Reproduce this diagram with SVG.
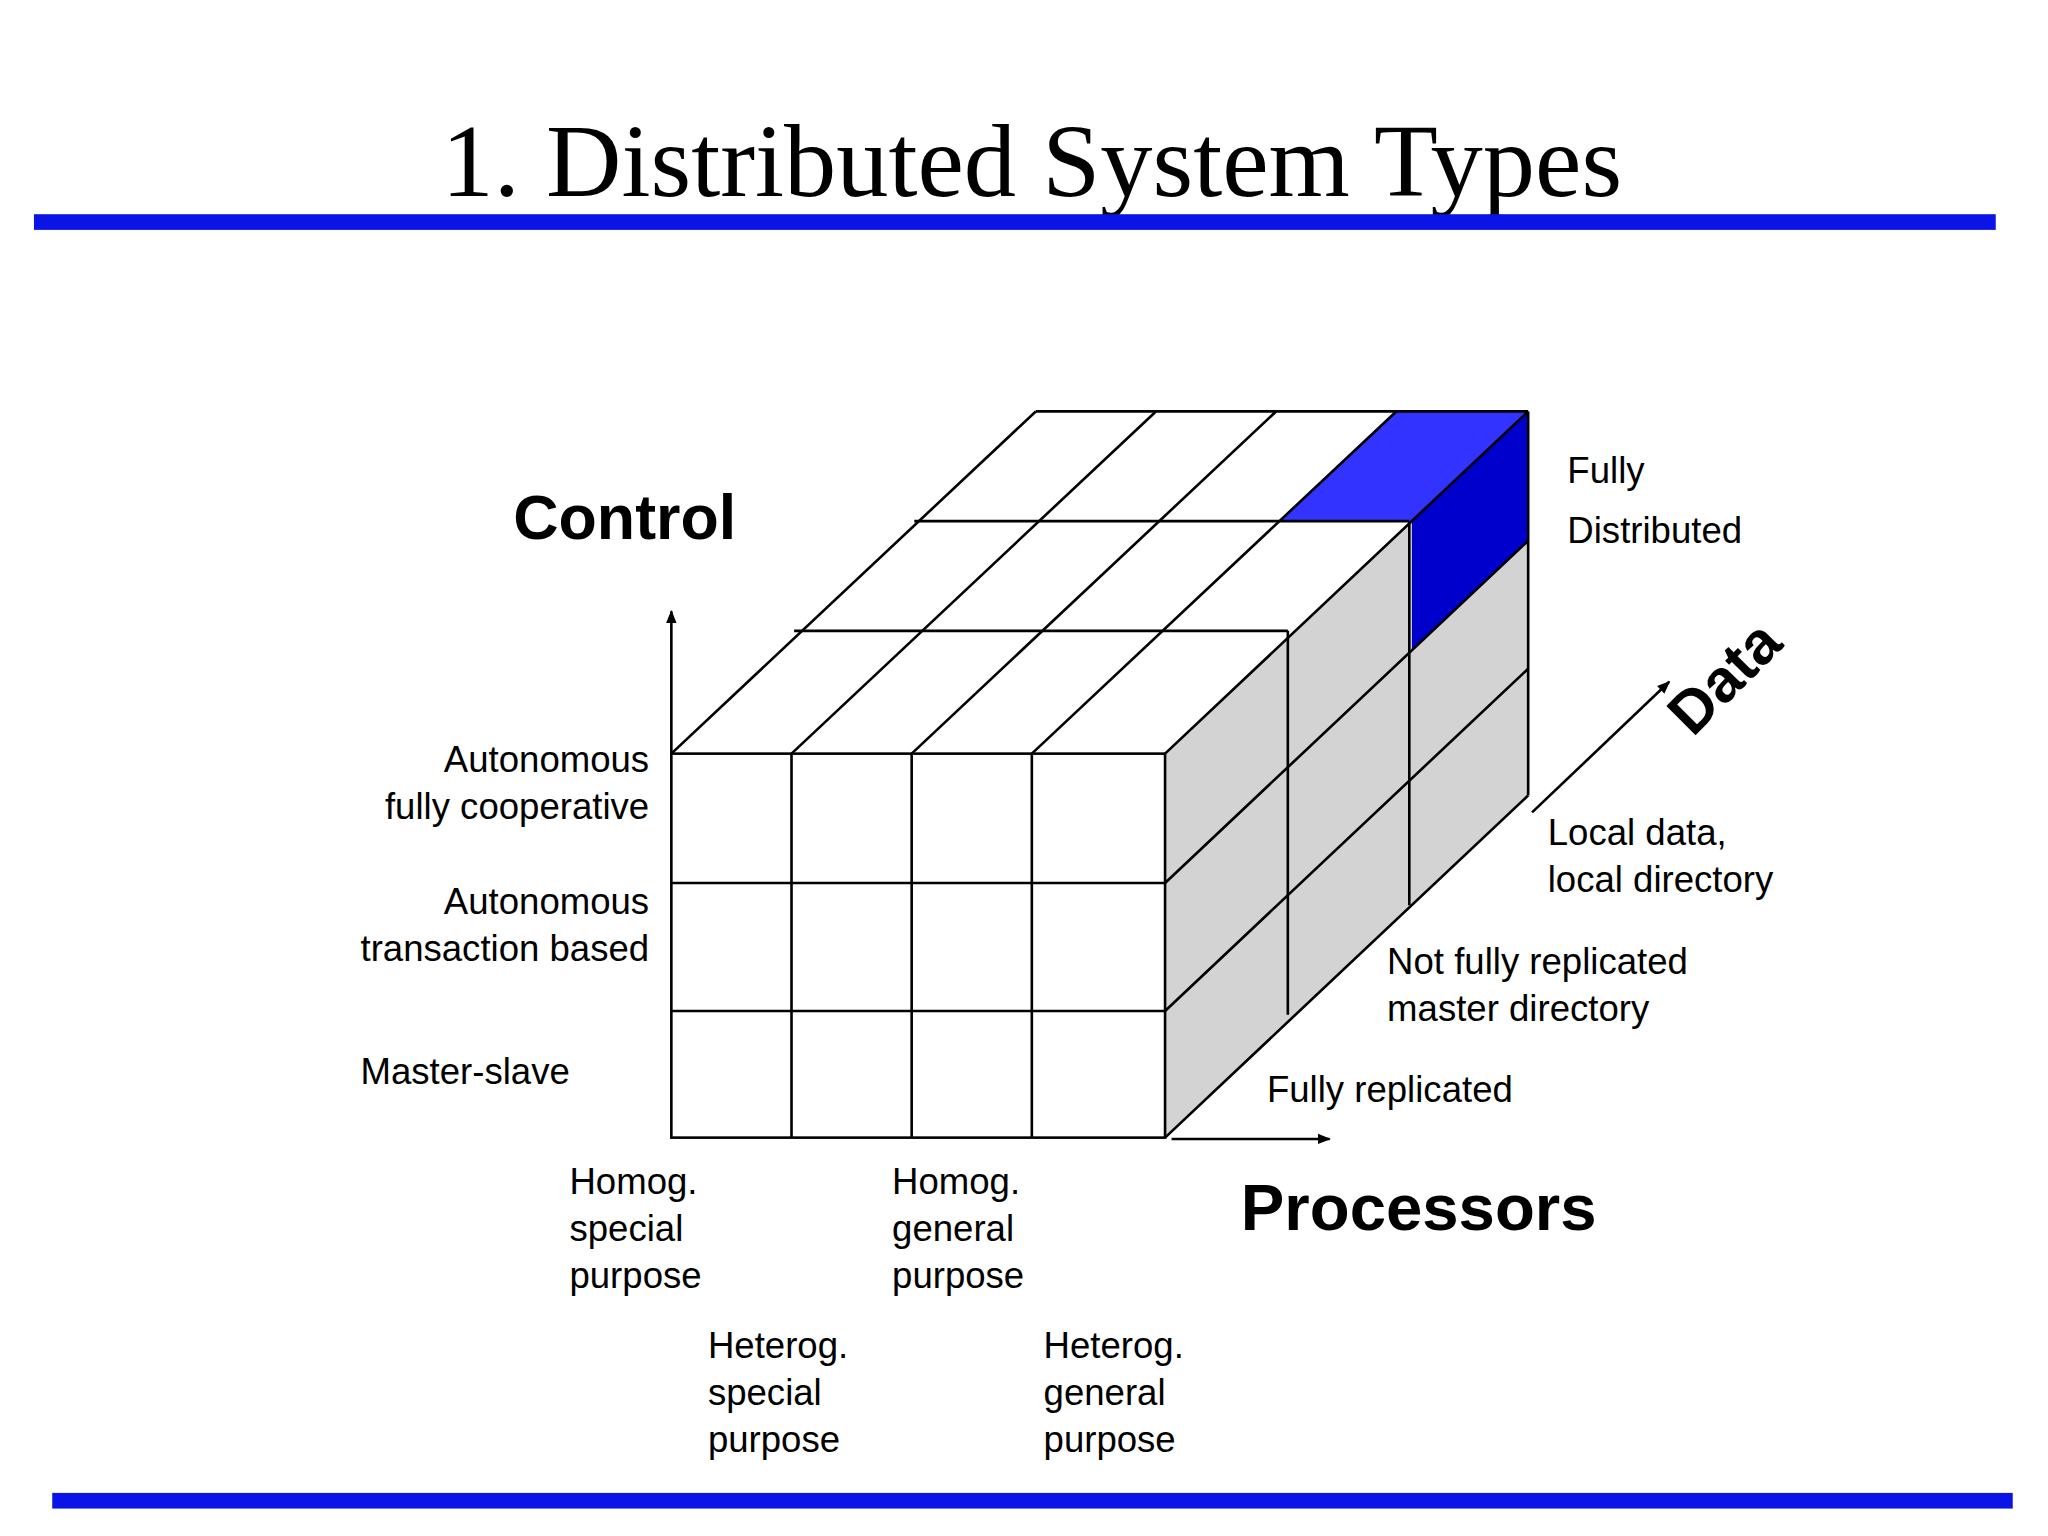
<svg xmlns="http://www.w3.org/2000/svg" width="2048" height="1536" viewBox="0 0 2048 1536">
<defs>
<style>
.t{font-family:"Liberation Sans",Arial,sans-serif;font-size:28px;fill:#000}
.b{font-family:"Liberation Sans",Arial,sans-serif;font-weight:bold;fill:#000}
.ln{stroke:#000;stroke-width:2;fill:none}
</style>
<marker id="ah" markerWidth="10" markerHeight="10" refX="9" refY="5" orient="auto" markerUnits="userSpaceOnUse"><path d="M0,1 L10,5 L0,9 Z" fill="#000"/></marker>
</defs>
<rect width="2048" height="1536" fill="#fff"/>
<g transform="scale(1.30612)">
<text x="790" y="150" text-anchor="middle" style="font-family:'Liberation Serif','Times New Roman',serif;font-size:80px">1. Distributed System Types</text>
<rect x="26" y="164" width="1502" height="12" fill="#0a14e6"/>
<rect x="40" y="1143" width="1501" height="12" fill="#0a14e6"/>
<g id="cube">
<polygon points="892,577 1170,315 1170,609 892,871" fill="#d3d3d3"/>
<polygon points="1069,315 1170,315 1081,399 980,399" fill="#3333ff"/>
<polygon points="1170,315 1170,414 1081,498 1081,399" fill="#0000cc"/>
<rect x="514" y="577" width="378" height="294" fill="#fff" class="ln"/>
<path class="ln" d="M606,577V871M698,577V871M790,577V871M514,676H892M514,774H892"/>
<path class="ln" d="M514,577L793,315M606,577L885,315M698,577L977,315M790,577L1069,315M892,577L1170,315"/>
<path class="ln" d="M608,483H986M700,399H1079M793,315H1170"/>
<path class="ln" d="M986,483V777M1079,399V693M1170,315V609"/>
<path class="ln" d="M892,676L1170,414M892,774L1170,512M892,871L1170,609"/>
</g>
<g id="connectors">
<line x1="514" y1="577" x2="514" y2="468" class="ln" marker-end="url(#ah)"/>
<line x1="897" y1="872" x2="1018" y2="872" class="ln" marker-end="url(#ah)"/>
<line x1="1173" y1="622" x2="1278" y2="522" class="ln" marker-end="url(#ah)"/>
</g>
<g id="labels">
<text class="b" x="393" y="413" font-size="48">Control</text>
<text class="b" x="950" y="942" font-size="50">Processors</text>
<text class="b" font-size="46" transform="translate(1296,565) rotate(-45)">Data</text>
<text class="t" x="1200" y="370" font-size="36">Fully</text>
<text class="t" x="1200" y="416" font-size="36">Distributed</text>
<text class="t" text-anchor="end" x="497" y="591">Autonomous</text>
<text class="t" text-anchor="end" x="497" y="627">fully cooperative</text>
<text class="t" text-anchor="end" x="497" y="700">Autonomous</text>
<text class="t" text-anchor="end" x="497" y="736">transaction based</text>
<text class="t" x="276" y="830">Master-slave</text>
<text class="t" x="436" y="914">Homog.</text><text class="t" x="436" y="950">special</text><text class="t" x="436" y="986">purpose</text>
<text class="t" x="683" y="914">Homog.</text><text class="t" x="683" y="950">general</text><text class="t" x="683" y="986">purpose</text>
<text class="t" x="542" y="1040">Heterog.</text><text class="t" x="542" y="1076">special</text><text class="t" x="542" y="1112">purpose</text>
<text class="t" x="799" y="1040">Heterog.</text><text class="t" x="799" y="1076">general</text><text class="t" x="799" y="1112">purpose</text>
<text class="t" x="970" y="844">Fully replicated</text>
<text class="t" x="1062" y="746">Not fully replicated</text>
<text class="t" x="1062" y="782">master directory</text>
<text class="t" x="1185" y="647">Local data,</text>
<text class="t" x="1185" y="683">local directory</text>
</g>
</g>
</svg>
